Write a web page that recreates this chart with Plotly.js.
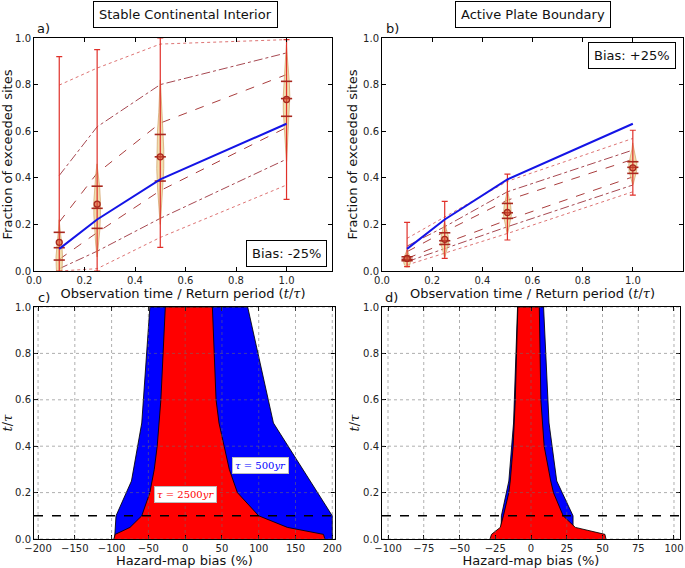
<!DOCTYPE html>
<html><head><meta charset="utf-8">
<script src="https://cdn.plot.ly/plotly-3.0.1.min.js"></script>
<style>html,body{margin:0;padding:0;background:#fff}</style>
</head><body><div id="chart" style="width:685px;height:568px"></div>
<script>
// ---------- shared ----------
const tRatio = [0.1, 0.25, 0.5, 1.0];
const expectedFraction = [0.095, 0.221, 0.393, 0.632];

// ---------- panel a: Stable Continental Interior (bias -25%) ----------
const aMean   = [0.123, 0.287, 0.490, 0.736];
const aMedian = [0.100, 0.269, 0.490, 0.740];
const aQ1     = [0.047, 0.183, 0.386, 0.664];
const aQ3     = [0.166, 0.364, 0.586, 0.814];
const aMin    = [0.000, 0.000, 0.101, 0.307];
const aMax    = [0.920, 0.950, 1.000, 0.993];
const aDotUp     = [0.798, 0.871, 0.974, 0.993];
const aDashDotUp = [0.410, 0.619, 0.800, 0.936];
const aDashUp    = [0.210, 0.420, 0.635, 0.843];
const aDashLo    = [0.050, 0.165, 0.345, 0.616];
const aDashDotLo = [0.010, 0.085, 0.226, 0.480];
const aDotLo     = [0.000, 0.010, 0.144, 0.369];
const aViolinY  = [[-0.02,0.02,0.06,0.10,0.14,0.18,0.22],
                   [0.06,0.12,0.18,0.24,0.30,0.36,0.42,0.46],
                   [0.20,0.28,0.36,0.44,0.52,0.60,0.68,0.76,0.82],
                   [0.47,0.55,0.62,0.69,0.75,0.81,0.87,0.93,0.97]];
const aViolinHW = [[0.010,0.012,0.013,0.011,0.007,0.003,0.0005],
                   [0.0005,0.006,0.011,0.013,0.013,0.010,0.005,0.0005],
                   [0.0005,0.005,0.011,0.014,0.014,0.011,0.006,0.002,0.0005],
                   [0.0005,0.004,0.009,0.013,0.013,0.011,0.007,0.003,0.0005]];

// ---------- panel b: Active Plate Boundary (bias +25%) ----------
const bMean   = [0.054, 0.136, 0.251, 0.443];
const bMedian = [0.050, 0.130, 0.250, 0.445];
const bQ1     = [0.044, 0.114, 0.226, 0.419];
const bQ3     = [0.061, 0.164, 0.290, 0.469];
const bMin    = [0.019, 0.054, 0.133, 0.326];
const bMax    = [0.209, 0.299, 0.416, 0.604];
const bDotUp     = [0.140, 0.233, 0.385, 0.569];
const bDashDotUp = [0.107, 0.190, 0.340, 0.519];
const bDashUp    = [0.083, 0.169, 0.304, 0.479];
const bDashLo    = [0.054, 0.119, 0.219, 0.404];
const bDashDotLo = [0.040, 0.097, 0.190, 0.369];
const bDotLo     = [0.026, 0.076, 0.161, 0.340];
const bViolinY  = [[0.015,0.03,0.05,0.07,0.09],
                   [0.06,0.09,0.12,0.15,0.18,0.21],
                   [0.16,0.20,0.24,0.28,0.32,0.35],
                   [0.37,0.40,0.43,0.46,0.49,0.52,0.55]];
const bViolinHW = [[0.004,0.012,0.015,0.009,0.0005],
                   [0.001,0.010,0.016,0.014,0.007,0.001],
                   [0.001,0.009,0.016,0.013,0.005,0.0005],
                   [0.001,0.008,0.015,0.016,0.011,0.004,0.0005]];

// ---------- panel c: bias range, stable continental ----------
const c500T     = [0.0, 0.1, 0.25, 0.5, 1.0];
const c500Left  = [-96, -94, -73, -59, -48];
const c500Right = [200, 200, 170, 120, 85];
const c2500T     = [0.0, 0.02, 0.05, 0.1, 0.2, 0.3, 0.4, 0.5, 0.6, 1.0];
const c2500Left  = [-97, -95, -75, -59, -48, -42, -38, -35, -33, -27];
const c2500Right = [190, 188, 139, 100, 71, 60, 53, 46, 42, 37];

// ---------- panel d: bias range, active plate boundary ----------
const d500T     = [0.0, 0.1, 0.25, 0.5, 1.0];
const d500Left  = [-21, -20.7, -15.5, -12.2, -9.4];
const d500Right = [29.4, 29.4, 18, 12.6, 8.8];
const d2500T     = [0.0, 0.02, 0.05, 0.1, 0.2, 0.25, 0.4, 0.6, 1.0];
const d2500Left  = [-28.7, -27.6, -21.5, -19.3, -15.5, -14.5, -12.5, -11, -9.2];
const d2500Right = [52.4, 51.7, 31, 22.5, 15.7, 13.8, 9.2, 6.9, 5.8];

const thresholdT = 0.1;
const ticks01 = [0, 0.2, 0.4, 0.6, 0.8, 1.0];
const cTicksX = [-200, -150, -100, -50, 0, 50, 100, 150, 200];
const dTicksX = [-100, -75, -50, -25, 0, 25, 50, 75, 100];

// ---------- builders ----------
const FONT = 'DejaVu Sans';
const traces = [];
function pctLines(xa, ya, sets) {
  sets.forEach(s => traces.push({type:'scatter', mode:'lines', x:tRatio, y:s[0], xaxis:xa, yaxis:ya,
    line:{color:s[1], width:1, dash:s[2]}, hoverinfo:'skip', showlegend:false}));
}
function violins(xa, ya, vy, vhw) {
  tRatio.forEach((cx, k) => {
    const ys = vy[k], hw = vhw[k];
    const xs = ys.map((y,i)=>cx+hw[i]).concat(ys.map((y,i)=>cx-hw[i]).reverse());
    const yy = ys.concat(ys.slice().reverse());
    traces.push({type:'scatter', mode:'lines', x:xs, y:yy, xaxis:xa, yaxis:ya, fill:'toself',
      fillcolor:'rgba(236,214,150,0.75)', line:{color:'rgba(205,150,90,0.8)', width:0.8},
      hoverinfo:'skip', showlegend:false});
  });
}
function stats(xa, ya, mean, med, q1, q3, mn, mx) {
  traces.push({type:'scatter', mode:'markers', x:tRatio, y:mean, xaxis:xa, yaxis:ya,
    marker:{size:0.1, color:'rgba(0,0,0,0)'},
    error_y:{type:'data', symmetric:false, array:mx.map((v,i)=>v-mean[i]), arrayminus:mean.map((v,i)=>v-mn[i]),
      color:'#e0302a', thickness:1.2, width:3}, hoverinfo:'skip', showlegend:false});
  const tx = tRatio.concat(tRatio, tRatio);
  traces.push({type:'scatter', mode:'markers', x:tx, y:q1.concat(q3, med), xaxis:xa, yaxis:ya,
    marker:{symbol:'line-ew-open', size:8, color:'#a8281e', line:{color:'#a8281e', width:1.6}}, hoverinfo:'skip', showlegend:false});
  traces.push({type:'scatter', mode:'markers', x:tRatio, y:mean, xaxis:xa, yaxis:ya,
    marker:{symbol:'circle', size:6, color:'rgba(215,80,50,0.55)', line:{color:'#a8281e', width:1.3}},
    hoverinfo:'skip', showlegend:false});
}
function blue(xa, ya) {
  traces.push({type:'scatter', mode:'lines', x:tRatio, y:expectedFraction, xaxis:xa, yaxis:ya,
    line:{color:'#1414e6', width:2}, hoverinfo:'skip', showlegend:false});
}
function band(xa, ya, t, left, right, color) {
  traces.push({type:'scatter', mode:'lines', x:left.concat(right.slice().reverse()),
    y:t.concat(t.slice().reverse()), xaxis:xa, yaxis:ya, fill:'toself', fillcolor:color,
    line:{color:'rgba(0,0,0,0.85)', width:1}, hoverinfo:'skip', showlegend:false});
}

const cDot = 'rgba(215,90,90,0.85)', cDD = 'rgba(150,40,50,0.85)', cDa = 'rgba(160,40,40,0.9)';
pctLines('x','y', [[aDotUp,cDot,'dot'],[aDotLo,cDot,'dot'],[aDashDotUp,cDD,'dashdot'],[aDashDotLo,cDD,'dashdot'],[aDashUp,cDa,'dash'],[aDashLo,cDa,'dash']]);
violins('x','y', aViolinY, aViolinHW);
stats('x','y', aMean, aMedian, aQ1, aQ3, aMin, aMax);
blue('x','y');

pctLines('x2','y2', [[bDotUp,cDot,'dot'],[bDotLo,cDot,'dot'],[bDashDotUp,cDD,'dashdot'],[bDashDotLo,cDD,'dashdot'],[bDashUp,cDa,'dash'],[bDashLo,cDa,'dash']]);
violins('x2','y2', bViolinY, bViolinHW);
stats('x2','y2', bMean, bMedian, bQ1, bQ3, bMin, bMax);
blue('x2','y2');

band('x3','y3', c500T, c500Left, c500Right, '#0000ff');
band('x3','y3', c2500T, c2500Left, c2500Right, '#ff0000');
band('x4','y4', d500T, d500Left, d500Right, '#0000ff');
band('x4','y4', d2500T, d2500Left, d2500Right, '#ff0000');

// ---------- layout ----------
const W = 685, H = 568;
const px = (a,b) => [a/W, b/W];
const py = (top,bot) => [1-bot/H, 1-top/H];
function ax(domain, range, tickvals, anchor, fmt, title, standoff) {
  return {domain, range, tickvals, anchor, tickformat:fmt, ticks:'inside', ticklen:4, tickwidth:1, tickcolor:'#000',
    mirror:'allticks', showline:true, linecolor:'#000', linewidth:1, showgrid:false, zeroline:false,
    tickfont:{family:FONT, size:10, color:'#222'}, automargin:false, fixedrange:true, ticklabeloverflow:'allow',
    title:{text:title, font:{family:FONT, size:13, color:'#111'}, standoff:standoff}};
}
const tTxt = 'Observation time / Return period (<span style="font-family:\'DejaVu Serif\'"><i>t</i>/<i>τ</i></span>)';
const yT = '<span style="font-family:\'DejaVu Serif\'"><i>t</i>/<i>τ</i></span>';
const shapes = [];
function grid(xr, yr, xt, yt) {
  xt.forEach(v => shapes.push({type:'line', xref:xr, yref:yr+' domain', x0:v, x1:v, y0:0, y1:1, layer:'above',
    line:{color:'rgba(110,110,110,0.55)', width:1, dash:'dot'}}));
  yt.forEach(v => shapes.push({type:'line', xref:xr+' domain', yref:yr, x0:0, x1:1, y0:v, y1:v, layer:'above',
    line:{color:'rgba(110,110,110,0.55)', width:1, dash:'dot'}}));
  shapes.push({type:'line', xref:xr+' domain', yref:yr, x0:0, x1:1, y0:thresholdT, y1:thresholdT, layer:'above',
    line:{color:'#000', width:1.4, dash:'dash'}});
}
grid('x3','y3', cTicksX, ticks01);
grid('x4','y4', dTicksX, ticks01);

const boxFont = {family:FONT, size:13, color:'#111'};
const box = {showarrow:false, font:boxFont, bordercolor:'#000', borderwidth:1, borderpad:5, bgcolor:'#fff',
  xanchor:'center', yanchor:'middle'};
const annotations = [
  Object.assign({xref:'paper', yref:'paper', x:185.5/W, y:1-14.5/H, text:'Stable Continental Interior'}, box),
  Object.assign({xref:'paper', yref:'paper', x:532.5/W, y:1-14.5/H, text:'Active Plate Boundary'}, box),
  Object.assign({xref:'x domain', yref:'y domain', x:0.848, y:0.074, text:'Bias: -25%'}, box),
  Object.assign({xref:'x2 domain', yref:'y2 domain', x:0.83, y:0.923, text:'Bias: +25%'}, box),
  {xref:'x3', yref:'y3', x:103, y:0.316, text:'<i>τ</i> = 500<i>yr</i>', showarrow:false, xanchor:'center', yanchor:'middle',
   font:{family:'DejaVu Serif', size:10, color:'#0000ff'}, bgcolor:'#fff', bordercolor:'#bbb', borderwidth:1, borderpad:2},
  {xref:'x3', yref:'y3', x:0, y:0.193, text:'<i>τ</i> = 2500<i>yr</i>', showarrow:false, xanchor:'center', yanchor:'middle',
   font:{family:'DejaVu Serif', size:10, color:'#ff0000'}, bgcolor:'#fff', bordercolor:'#bbb', borderwidth:1, borderpad:2}
];
[['x','y','a)'],['x2','y2','b)'],['x3','y3','c)'],['x4','y4','d)']].forEach(p => annotations.push(
  {xref:p[0]+' domain', yref:p[1]+' domain', x:0.005, y:1, xanchor:'left', yanchor:'bottom', text:p[2],
   showarrow:false, font:{family:FONT, size:13, color:'#111'}}));

const layout = {
  width:W, height:H, margin:{l:0, r:0, t:0, b:0}, paper_bgcolor:'#fff', plot_bgcolor:'#fff',
  showlegend:false, shapes, annotations,
  xaxis:  ax(px(34,332),  [0,1.18], ticks01, 'y',  '.1f', tTxt, 2),
  yaxis:  ax(py(38,271),  [0,1],    ticks01, 'x',  '.1f', 'Fraction of exceeded sites', 4),
  xaxis2: ax(px(382,683), [0,1.2],  ticks01, 'y2', '.1f', tTxt, 2),
  yaxis2: ax(py(38,271),  [0,1],    ticks01, 'x2', '.1f', 'Fraction of exceeded sites', 2),
  xaxis3: ax(px(34,335),  [-205.5,203.7], cTicksX, 'y3', 'd', 'Hazard-map bias (%)', 0),
  yaxis3: ax(py(307,539), [0,1],    ticks01, 'x3', '.1f', yT, 0),
  xaxis4: ax(px(382,680), [-104.2,104.2], dTicksX, 'y4', 'd', 'Hazard-map bias (%)', 0),
  yaxis4: ax(py(307,539), [0,1],    ticks01, 'x4', '.1f', yT, 0)
};
Plotly.newPlot('chart', traces, layout, {staticPlot:true, displayModeBar:false});
</script></body></html>
